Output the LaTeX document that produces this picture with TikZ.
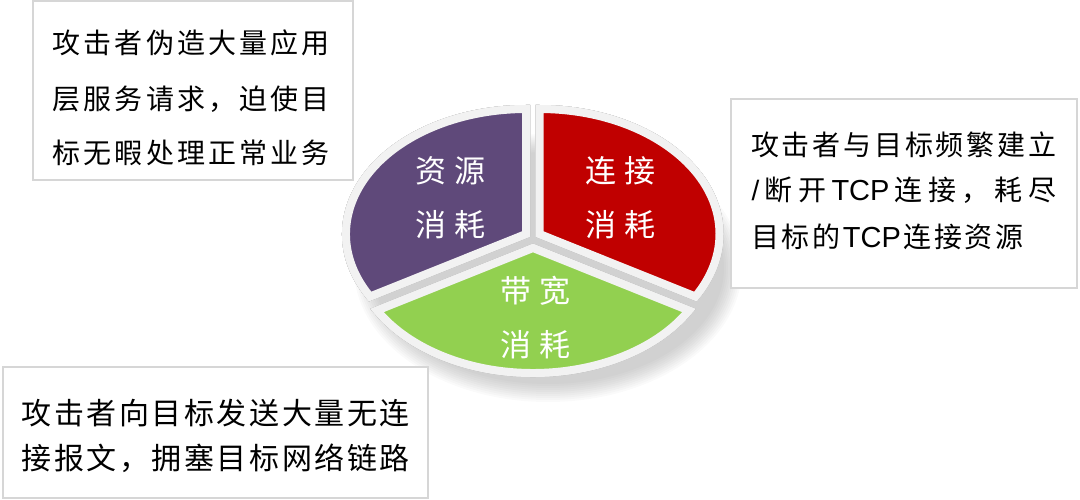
\documentclass[tikz,border=0pt]{standalone}
\usepackage{fontspec}
\setmainfont{Noto Sans CJK SC}
\newfontfamily\cjkfont{Noto Sans CJK SC}
\newfontfamily\latfont{Liberation Sans}
\definecolor{cpurple}{HTML}{5F497A}
\definecolor{cred}{HTML}{C00000}
\definecolor{cgreen}{HTML}{92D050}
\definecolor{rimc}{HTML}{F2F2F2}
\definecolor{boxc}{HTML}{D6D6D6}
\definecolor{sidea}{HTML}{DADADA}
\definecolor{sideb}{HTML}{CECECE}
\definecolor{sidec}{HTML}{C2C2C2}
\definecolor{sided}{HTML}{B6B6B6}
\definecolor{sidee}{HTML}{AAAAAA}
\definecolor{sidef}{HTML}{9E9E9E}
\newcommand\piesector[4]{%
  \foreach \dd/\cc in {13/sidef,11/sidee,9/sided,7/sidec,5/sideb,3/sidea}{%
    \path[fill=\cc, draw=\cc, line width=8pt, line join=miter, shift={(0,\dd)}]
      (#1) -- ++(#2:180 and 125) arc[start angle=#2, end angle=#3, x radius=180, y radius=125] -- cycle;
  }
  \path[fill=#4, draw=rimc, line width=8pt, line join=miter]
    (#1) -- ++(#2:180 and 125) arc[start angle=#2, end angle=#3, x radius=180, y radius=125] -- cycle;
}
\newcommand\jline[2]{\makebox[#1][s]{\spaceskip=0pt plus 1fil\xspaceskip=0pt plus 1fil\relax #2}}
\tikzset{
  box/.style={draw=boxc, line width=1.6pt, fill=white},
  lbl/.style={text=white, font=\cjkfont\fontsize{31}{31}\selectfont, inner sep=0pt},
  desc/.style={font=\cjkfont\fontsize{28}{28}\selectfont, anchor=west, inner sep=0pt},
  descb/.style={font=\cjkfont\fontsize{30}{30}\selectfont, anchor=west, inner sep=0pt}
}
\newcommand\tcp{{\latfont\fontsize{29}{29}\selectfont TCP}}
\begin{document}
\begin{tikzpicture}[x=1pt,y=-1pt]
\useasboundingbox (0,0) rectangle (1080,500);
% soft shadow
\foreach \k in {0,...,9}{
  \fill[black, opacity=0.02] (548,268) ellipse[x radius={194-2*\k}, y radius={134-2*\k}];
}
\coordinate (pP) at (526,234);
\coordinate (pR) at (539.5,234);
\coordinate (pG) at (533,248);
\piesector{pP}{150}{270}{cpurple}
\piesector{pR}{-90}{30}{cred}
\piesector{pG}{30}{150}{cgreen}
% labels
\node[lbl] (l1a) at (450.5,170.5) {资\kern8pt 源};
\node[lbl] (l1b) at (450.5,224.5) {消\kern8pt 耗};
\node[lbl] (l2a) at (620.5,170.5) {连\kern8pt 接};
\node[lbl] (l2b) at (620.5,224.5) {消\kern8pt 耗};
\node[lbl] (l3a) at (535.5,290.5) {带\kern8pt 宽};
\node[lbl] (l3b) at (535.5,344.5) {消\kern8pt 耗};
% boxes
\draw[box] (33,1) rectangle (353,180);
\draw[box] (731,99) rectangle (1077,288);
\draw[box] (3,367) rectangle (428,498);
\node[desc] (t1a) at (52.5,43) {\jline{277pt}{攻 击 者 伪 造 大 量 应 用}};
\node[desc] (t1b) at (52.5,99) {\jline{277pt}{层 服 务 请 求 ， 迫 使 目}};
\node[desc] (t1c) at (52.5,153) {\jline{277pt}{标 无 暇 处 理 正 常 业 务}};
\node[desc] (t2a) at (751,145) {\jline{305pt}{攻 击 者 与 目 标 频 繁 建 立}};
\node[desc] (t2b) at (751.5,190) {\jline{304.5pt}{{\latfont /} 断 开 \tcp{} 连 接 ， 耗 尽}};
\node[desc] (t2c) at (751,237) {\jline{272pt}{目 标 的 \tcp{} 连 接 资 源}};
\node[descb] (t3a) at (21.5,413) {\jline{388pt}{攻 击 者 向 目 标 发 送 大 量 无 连}};
\node[descb] (t3b) at (21.5,458) {\jline{388pt}{接 报 文 ， 拥 塞 目 标 网 络 链 路}};
\end{tikzpicture}
\end{document}
